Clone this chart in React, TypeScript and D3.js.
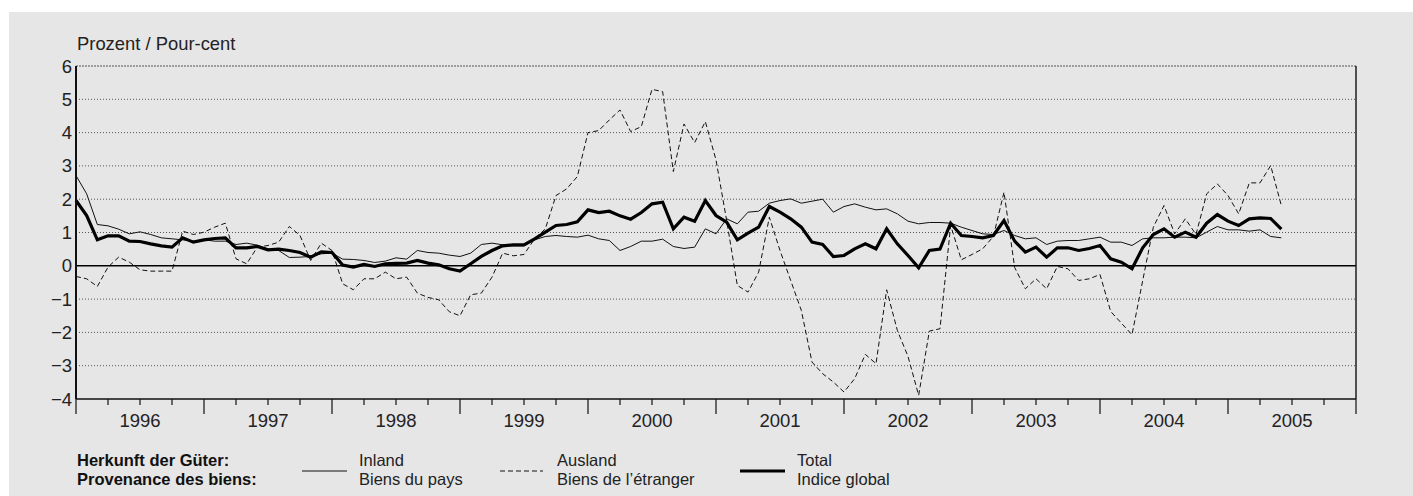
import * as d3 from "d3";

// monthly values, Jan 1996 .. Jun 2005
const inland = [
  2.71, 2.16, 1.24, 1.2, 1.1, 0.96, 1.02, 0.94, 0.84, 0.81, 0.78, 0.74,
  0.78, 0.74, 0.74, 0.64, 0.68, 0.62, 0.5, 0.46, 0.25, 0.26, 0.28, 0.36,
  0.38, 0.2, 0.19, 0.16, 0.1, 0.14, 0.24, 0.2, 0.46, 0.4, 0.38, 0.32,
  0.28, 0.38, 0.64, 0.68, 0.63, 0.6, 0.6, 0.78, 0.88, 0.91, 0.88, 0.86,
  0.92, 0.81, 0.76, 0.46, 0.58, 0.74, 0.74, 0.8, 0.58, 0.52, 0.56, 1.11,
  0.96, 1.41, 1.26, 1.61, 1.64, 1.88, 1.96, 2.01, 1.88, 1.94, 2.0, 1.61,
  1.78, 1.86, 1.76, 1.68, 1.71, 1.56, 1.34, 1.26, 1.3, 1.3, 1.28, 1.16,
  1.06, 0.96, 0.94, 1.06, 0.91, 0.81, 0.84, 0.64, 0.74, 0.76, 0.76, 0.81,
  0.86, 0.71, 0.71, 0.61, 0.81, 0.84, 0.84, 0.86, 0.86, 0.84, 1.01, 1.18,
  1.08, 1.08, 1.04, 1.08, 0.88, 0.84,
];
const ausland = [
  -0.32, -0.39, -0.62, -0.04, 0.26, 0.11, -0.12, -0.16, -0.16, -0.16, 1.04, 0.94,
  1.01, 1.16, 1.28, 0.21, 0.06, 0.56, 0.61, 0.71, 1.18, 0.91, 0.16, 0.68,
  0.46, -0.54, -0.72, -0.39, -0.39, -0.19, -0.39, -0.34, -0.82, -0.95, -1.02, -1.38,
  -1.5, -0.87, -0.82, -0.34, 0.38, 0.3, 0.34, 0.81, 1.11, 2.11, 2.31, 2.68,
  4.0, 4.06, 4.38, 4.68, 4.03, 4.18, 5.3, 5.23, 2.83, 4.26, 3.7, 4.33,
  3.18, 1.36, -0.59, -0.79, -0.19, 1.46, 0.46, -0.44, -1.34, -2.89, -3.24, -3.49,
  -3.79, -3.39, -2.66, -2.94, -0.72, -1.94, -2.72, -3.89, -1.96, -1.89, 1.21, 0.18,
  0.34, 0.51, 0.88, 2.21, -0.05, -0.69, -0.39, -0.69, -0.02, -0.09, -0.44, -0.39,
  -0.26, -1.37, -1.72, -2.07, -0.45, 1.16, 1.81, 0.96, 1.41, 0.94, 2.16, 2.46,
  2.11, 1.56, 2.49, 2.49, 3.01, 1.81,
];
const total = [
  1.96, 1.51, 0.78, 0.9, 0.9, 0.74, 0.73, 0.66, 0.6, 0.56, 0.84, 0.71,
  0.78, 0.82, 0.84, 0.54, 0.54, 0.58, 0.48, 0.5, 0.46, 0.4, 0.26, 0.42,
  0.4, 0.02, -0.04, 0.04, -0.02, 0.06, 0.07, 0.08, 0.16, 0.08, 0.03, -0.09,
  -0.16, 0.06, 0.28, 0.46, 0.6, 0.63, 0.63, 0.81, 1.01, 1.21, 1.24, 1.32,
  1.68, 1.6, 1.64, 1.5, 1.4, 1.6, 1.86, 1.91, 1.11, 1.46, 1.34, 1.96,
  1.51, 1.31, 0.78, 0.98, 1.16, 1.78, 1.61, 1.41, 1.16, 0.71, 0.64, 0.28,
  0.31, 0.51, 0.66, 0.51, 1.11, 0.66, 0.31, -0.06, 0.46, 0.5, 1.28, 0.91,
  0.88, 0.84, 0.91, 1.36, 0.74, 0.41, 0.56, 0.26, 0.54, 0.54, 0.46, 0.52,
  0.61, 0.21, 0.11, -0.09, 0.54, 0.94, 1.11, 0.86, 1.01, 0.86, 1.28, 1.54,
  1.34, 1.21, 1.41, 1.44, 1.42, 1.1,
];
const years = [1996, 1997, 1998, 1999, 2000, 2001, 2002, 2003, 2004, 2005];
const yTicks = [-4, -3, -2, -1, 0, 1, 2, 3, 4, 5, 6];

const W = 1413;
const H = 496;
const left = 76, right = 1356, top = 66, bottom = 399;
const font = "'Liberation Sans', Arial, sans-serif";

export default function App() {
  const x = d3.scaleLinear().domain([0, years.length * 12]).range([left, right]);
  const y = d3.scaleLinear().domain([-4, 6]).range([bottom, top]);
  const line = d3
    .line<number>()
    .x((d, i) => x(i))
    .y((d) => y(d));

  const quarters = d3.range(0, years.length * 12 + 1, 3);

  return (
    <svg
      width={W}
      height={H}
      style={{ position: "absolute", left: 0, top: 0 }}
      fontFamily={font}
    >
      <rect x={9} y={12} width={W - 9} height={H - 12} fill="#e6e6e6" />
      <text x={77} y={50} fontSize={18.4} fill="#222">
        Prozent / Pour-cent
      </text>

      {/* grid */}
      {yTicks.map((t) =>
        t === 0 || t === -4 ? null : (
          <line
            key={t}
            x1={left}
            x2={right}
            y1={y(t)}
            y2={y(t)}
            stroke="#555"
            strokeWidth={1}
            strokeDasharray={t === 6 ? "2 1" : "1 2"}
          />
        )
      )}
      {yTicks.map((t) => (
        <text
          key={t}
          x={72}
          y={y(t) + 6.5}
          textAnchor="end"
          fontSize={18.5}
          fill="#222"
        >
          {t < 0 ? "\u2212" + Math.abs(t) : t}
        </text>
      ))}

      {/* x axis */}
      {quarters.map((q) => (
        <line
          key={q}
          x1={x(q)}
          x2={x(q)}
          y1={bottom}
          y2={bottom + (q % 12 === 0 ? 15 : 6)}
          stroke="#111"
          strokeWidth={1.2}
        />
      ))}
      {years.map((yr, i) => (
        <text
          key={yr}
          x={x(i * 12 + 6)}
          y={427}
          textAnchor="middle"
          fontSize={18.5}
          fill="#222"
        >
          {yr}
        </text>
      ))}

      {/* series */}
      <path d={line(inland) ?? ""} fill="none" stroke="#111" strokeWidth={1} />
      <path
        d={line(ausland) ?? ""}
        fill="none"
        stroke="#111"
        strokeWidth={1}
        strokeDasharray="5 3"
      />
      <path
        d={line(total) ?? ""}
        fill="none"
        stroke="#000"
        strokeWidth={3.2}
        strokeLinejoin="miter"
      />

      <line x1={left} x2={right} y1={y(0)} y2={y(0)} stroke="#000" strokeWidth={1.4} />
      <line x1={left} x2={left} y1={top} y2={bottom} stroke="#111" strokeWidth={2} />
      <line x1={right} x2={right} y1={top} y2={bottom} stroke="#111" strokeWidth={1.4} />
      <line x1={left} x2={right} y1={bottom} y2={bottom} stroke="#111" strokeWidth={1.6} />

      {/* legend */}
      <text x={77} y={466} fontSize={16.5} fontWeight="bold" fill="#111">
        Herkunft der Güter:
      </text>
      <text x={77} y={485} fontSize={16.5} fontWeight="bold" fill="#111">
        Provenance des biens:
      </text>
      <line x1={302} x2={347} y1={471} y2={471} stroke="#111" strokeWidth={1} />
      <text x={359} y={466} fontSize={16.5} fill="#222">Inland</text>
      <text x={359} y={485} fontSize={16.5} fill="#222">Biens du pays</text>
      <line x1={500} x2={543} y1={471} y2={471} stroke="#111" strokeWidth={1} strokeDasharray="5 3" />
      <text x={557} y={466} fontSize={16.5} fill="#222">Ausland</text>
      <text x={557} y={485} fontSize={16.5} fill="#222">Biens de l’étranger</text>
      <line x1={740} x2={785} y1={471} y2={471} stroke="#000" strokeWidth={3.2} />
      <text x={797} y={466} fontSize={16.5} fill="#222">Total</text>
      <text x={797} y={485} fontSize={16.5} fill="#222">Indice global</text>
    </svg>
  );
}
